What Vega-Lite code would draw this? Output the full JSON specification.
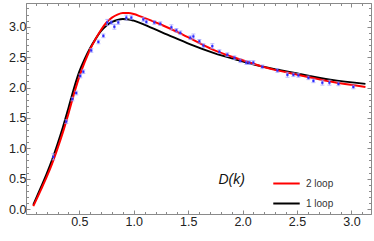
{
  "$schema": "https://vega.github.io/schema/vega-lite/v6.json",
  "width": 345,
  "height": 211,
  "autosize": {"type": "none"},
  "padding": {"left": 26, "top": 3, "right": 3, "bottom": 27},
  "background": "white",
  "config": {
    "view": {"stroke": "#8a8a8a", "strokeWidth": 1},
    "font": "Liberation Sans",
    "axis": {"grid": false, "domainColor": "#8a8a8a", "tickColor": "#8a8a8a", "labelColor": "#222222", "labelFont": "Liberation Sans", "labelFontSize": 12.5}
  },
  "datasets": {
    "curves": [
      {"k": 0.077, "D": 0.07, "series": "1 loop"},
      {"k": 0.15, "D": 0.37, "series": "1 loop"},
      {"k": 0.2, "D": 0.58, "series": "1 loop"},
      {"k": 0.25, "D": 0.81, "series": "1 loop"},
      {"k": 0.3, "D": 1.07, "series": "1 loop"},
      {"k": 0.35, "D": 1.35, "series": "1 loop"},
      {"k": 0.4, "D": 1.66, "series": "1 loop"},
      {"k": 0.45, "D": 1.98, "series": "1 loop"},
      {"k": 0.5, "D": 2.26, "series": "1 loop"},
      {"k": 0.55, "D": 2.47, "series": "1 loop"},
      {"k": 0.6, "D": 2.65, "series": "1 loop"},
      {"k": 0.65, "D": 2.8, "series": "1 loop"},
      {"k": 0.7, "D": 2.93, "series": "1 loop"},
      {"k": 0.75, "D": 3.02, "series": "1 loop"},
      {"k": 0.8, "D": 3.08, "series": "1 loop"},
      {"k": 0.85, "D": 3.11, "series": "1 loop"},
      {"k": 0.9, "D": 3.125, "series": "1 loop"},
      {"k": 0.95, "D": 3.12, "series": "1 loop"},
      {"k": 1.0, "D": 3.1, "series": "1 loop"},
      {"k": 1.153, "D": 2.99, "series": "1 loop"},
      {"k": 1.309, "D": 2.87, "series": "1 loop"},
      {"k": 1.52, "D": 2.71, "series": "1 loop"},
      {"k": 1.732, "D": 2.57, "series": "1 loop"},
      {"k": 1.98, "D": 2.44, "series": "1 loop"},
      {"k": 2.191, "D": 2.34, "series": "1 loop"},
      {"k": 2.504, "D": 2.23, "series": "1 loop"},
      {"k": 2.807, "D": 2.13, "series": "1 loop"},
      {"k": 3.129, "D": 2.06, "series": "1 loop"},
      {"k": 0.077, "D": 0.05, "series": "2 loop"},
      {"k": 0.15, "D": 0.33, "series": "2 loop"},
      {"k": 0.2, "D": 0.53, "series": "2 loop"},
      {"k": 0.25, "D": 0.75, "series": "2 loop"},
      {"k": 0.3, "D": 1.0, "series": "2 loop"},
      {"k": 0.35, "D": 1.27, "series": "2 loop"},
      {"k": 0.4, "D": 1.57, "series": "2 loop"},
      {"k": 0.45, "D": 1.89, "series": "2 loop"},
      {"k": 0.5, "D": 2.18, "series": "2 loop"},
      {"k": 0.55, "D": 2.42, "series": "2 loop"},
      {"k": 0.6, "D": 2.63, "series": "2 loop"},
      {"k": 0.65, "D": 2.8, "series": "2 loop"},
      {"k": 0.7, "D": 2.95, "series": "2 loop"},
      {"k": 0.75, "D": 3.07, "series": "2 loop"},
      {"k": 0.8, "D": 3.15, "series": "2 loop"},
      {"k": 0.85, "D": 3.2, "series": "2 loop"},
      {"k": 0.9, "D": 3.225, "series": "2 loop"},
      {"k": 0.95, "D": 3.225, "series": "2 loop"},
      {"k": 1.0, "D": 3.21, "series": "2 loop"},
      {"k": 1.061, "D": 3.17, "series": "2 loop"},
      {"k": 1.244, "D": 3.04, "series": "2 loop"},
      {"k": 1.45, "D": 2.87, "series": "2 loop"},
      {"k": 1.732, "D": 2.62, "series": "2 loop"},
      {"k": 1.98, "D": 2.46, "series": "2 loop"},
      {"k": 2.191, "D": 2.34, "series": "2 loop"},
      {"k": 2.504, "D": 2.21, "series": "2 loop"},
      {"k": 2.807, "D": 2.1, "series": "2 loop"},
      {"k": 3.129, "D": 2.01, "series": "2 loop"}
    ],
    "points": [
      {"k": 0.261, "D": 0.86, "err": 0.05},
      {"k": 0.38, "D": 1.44, "err": 0.03},
      {"k": 0.436, "D": 1.81, "err": 0.03},
      {"k": 0.472, "D": 1.91, "err": 0.03},
      {"k": 0.509, "D": 2.19, "err": 0.03},
      {"k": 0.537, "D": 2.26, "err": 0.03},
      {"k": 0.61, "D": 2.61, "err": 0.03},
      {"k": 0.675, "D": 2.75, "err": 0.03},
      {"k": 0.721, "D": 2.85, "err": 0.03},
      {"k": 0.757, "D": 3.07, "err": 0.05},
      {"k": 0.794, "D": 3.07, "err": 0.03},
      {"k": 0.822, "D": 3.0, "err": 0.04},
      {"k": 0.858, "D": 3.07, "err": 0.03},
      {"k": 0.932, "D": 3.15, "err": 0.04},
      {"k": 0.978, "D": 3.15, "err": 0.03},
      {"k": 1.088, "D": 3.12, "err": 0.03},
      {"k": 1.116, "D": 3.08, "err": 0.03},
      {"k": 1.189, "D": 3.07, "err": 0.03},
      {"k": 1.244, "D": 3.05, "err": 0.03},
      {"k": 1.346, "D": 2.99, "err": 0.04},
      {"k": 1.392, "D": 2.94, "err": 0.03},
      {"k": 1.428, "D": 2.9, "err": 0.03},
      {"k": 1.52, "D": 2.82, "err": 0.03},
      {"k": 1.548, "D": 2.84, "err": 0.04},
      {"k": 1.603, "D": 2.76, "err": 0.03},
      {"k": 1.64, "D": 2.69, "err": 0.03},
      {"k": 1.722, "D": 2.68, "err": 0.04},
      {"k": 1.787, "D": 2.59, "err": 0.03},
      {"k": 1.86, "D": 2.54, "err": 0.03},
      {"k": 1.925, "D": 2.49, "err": 0.03},
      {"k": 1.98, "D": 2.44, "err": 0.03},
      {"k": 2.035, "D": 2.41, "err": 0.03},
      {"k": 2.062, "D": 2.41, "err": 0.03},
      {"k": 2.099, "D": 2.41, "err": 0.03},
      {"k": 2.182, "D": 2.34, "err": 0.03},
      {"k": 2.32, "D": 2.28, "err": 0.03},
      {"k": 2.412, "D": 2.21, "err": 0.04},
      {"k": 2.467, "D": 2.21, "err": 0.03},
      {"k": 2.513, "D": 2.2, "err": 0.03},
      {"k": 2.605, "D": 2.16, "err": 0.03},
      {"k": 2.651, "D": 2.11, "err": 0.03},
      {"k": 2.733, "D": 2.08, "err": 0.04},
      {"k": 2.798, "D": 2.08, "err": 0.04},
      {"k": 2.881, "D": 2.06, "err": 0.03},
      {"k": 3.018, "D": 2.01, "err": 0.03}
    ],
    "label": [{"k": 1.9, "D": 0.48, "text": "D(k)"}]
  },
  "resolve": {"axis": {"x": "independent", "y": "independent"}},
  "layer": [
    {
      "data": {"name": "curves"},
      "mark": {"type": "line", "strokeWidth": 2, "interpolate": "monotone"},
      "encoding": {
        "x": {"field": "k", "type": "quantitative", "scale": {"domain": [0.01, 3.18], "nice": false, "zero": false},
          "axis": {"orient": "bottom", "title": null, "values": [0.1,0.2,0.3,0.4,0.5,0.6,0.7,0.8,0.9,1.0,1.1,1.2,1.3,1.4,1.5,1.6,1.7,1.8,1.9,2.0,2.1,2.2,2.3,2.4,2.5,2.6,2.7,2.8,2.9,3.0,3.1],
            "labelExpr": "abs(round(datum.value*2)-datum.value*2) < 0.001 ? format(datum.value, '.1f') : ''",
            "tickSize": {"condition": {"test": "abs(round(datum.value*2)-datum.value*2) < 0.001", "value": -4}, "value": -2.5},
            "labelPadding": 5, "labelFlush": false, "labelOverlap": false}},
        "y": {"field": "D", "type": "quantitative", "scale": {"domain": [-0.08, 3.39], "nice": false, "zero": false},
          "axis": {"orient": "left", "title": null, "values": [0.0,0.1,0.2,0.3,0.4,0.5,0.6,0.7,0.8,0.9,1.0,1.1,1.2,1.3,1.4,1.5,1.6,1.7,1.8,1.9,2.0,2.1,2.2,2.3,2.4,2.5,2.6,2.7,2.8,2.9,3.0,3.1,3.2,3.3],
            "labelExpr": "abs(round(datum.value*2)-datum.value*2) < 0.001 ? format(datum.value, '.1f') : ''",
            "tickSize": {"condition": {"test": "abs(round(datum.value*2)-datum.value*2) < 0.001", "value": -4}, "value": -2.5},
            "labelPadding": 4, "labelFlush": false, "labelOverlap": false}},
        "color": {"field": "series", "type": "nominal", "scale": {"domain": ["2 loop", "1 loop"], "range": ["#ff0000", "#000000"]},
          "legend": {"orient": "none", "legendX": 246, "legendY": 166, "title": null, "symbolType": "stroke", "symbolSize": 700, "symbolStrokeWidth": 2, "labelFontSize": 10, "labelFont": "Liberation Sans", "labelColor": "#333333", "rowPadding": -7, "labelOffset": 5}}
      }
    },
    {
      "data": {"name": "points"},
      "transform": [{"calculate": "datum.D - datum.err", "as": "lo"}, {"calculate": "datum.D + datum.err", "as": "hi"}],
      "mark": {"type": "errorbar", "ticks": {"size": 4, "color": "#9a9aff"}, "rule": {"color": "#9a9aff"}},
      "encoding": {
        "x": {"field": "k", "type": "quantitative",
          "axis": {"orient": "top", "title": null, "values": [0.1,0.2,0.3,0.4,0.5,0.6,0.7,0.8,0.9,1.0,1.1,1.2,1.3,1.4,1.5,1.6,1.7,1.8,1.9,2.0,2.1,2.2,2.3,2.4,2.5,2.6,2.7,2.8,2.9,3.0,3.1],
            "labels": false,
            "tickSize": {"condition": {"test": "abs(round(datum.value*2)-datum.value*2) < 0.001", "value": -4}, "value": -2.5}}},
        "y": {"field": "lo", "type": "quantitative", "title": null,
          "axis": {"orient": "right", "title": null, "values": [0.0,0.1,0.2,0.3,0.4,0.5,0.6,0.7,0.8,0.9,1.0,1.1,1.2,1.3,1.4,1.5,1.6,1.7,1.8,1.9,2.0,2.1,2.2,2.3,2.4,2.5,2.6,2.7,2.8,2.9,3.0,3.1,3.2,3.3],
            "labels": false,
            "tickSize": {"condition": {"test": "abs(round(datum.value*2)-datum.value*2) < 0.001", "value": -4}, "value": -2.5}}},
        "y2": {"field": "hi"}
      }
    },
    {
      "data": {"name": "points"},
      "mark": {"type": "square", "size": 5, "color": "#2a2aff", "opacity": 1},
      "encoding": {
        "x": {"field": "k", "type": "quantitative", "axis": null},
        "y": {"field": "D", "type": "quantitative", "axis": null}
      }
    },
    {
      "data": {"name": "label"},
      "mark": {"type": "text", "font": "Liberation Sans", "fontSize": 14, "fontStyle": "italic", "color": "#111111", "align": "center", "baseline": "middle"},
      "encoding": {
        "x": {"field": "k", "type": "quantitative", "axis": null},
        "y": {"field": "D", "type": "quantitative", "axis": null},
        "text": {"field": "text"}
      }
    }
  ]
}
